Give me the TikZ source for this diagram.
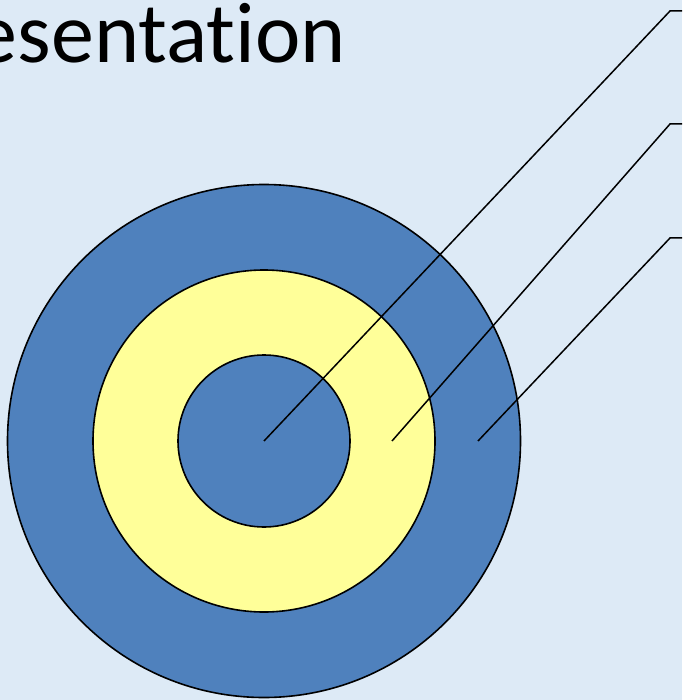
\documentclass[tikz,border=0pt]{standalone}
\usepackage{fontspec}
\setmainfont[Ligatures={NoCommon}]{Carlito}
\definecolor{bgblue}{HTML}{DDEAF6}
\definecolor{ringblue}{HTML}{4F81BD}
\definecolor{ringyellow}{HTML}{FFFF99}
\tikzset{
  ring/.style={circle, draw=black, line width=1.6pt, inner sep=0pt},
  leader/.style={draw=black, line width=1.5pt},
}
\begin{document}
\begin{tikzpicture}[x=1pt,y=-1pt]
\useasboundingbox (0,0) rectangle (682,700);
\clip (0,0) rectangle (682,700);
\fill[bgblue] (0,0) rectangle (682,700);
\node[anchor=base east, font=\fontsize{86}{90}\selectfont, inner sep=0pt] (title) at (346,63) {esentation};
\node[ring, fill=ringblue, minimum size=513pt] (outer) at (264,441) {};
\node[ring, fill=ringyellow, minimum size=342pt] (middle) at (264,441) {};
\node[ring, fill=ringblue, minimum size=172pt] (inner) at (264,441) {};
\coordinate (p1) at (264,441);
\coordinate (p2) at (392,441);
\coordinate (p3) at (478,441);
\coordinate (k1) at (670,11);
\coordinate (k2) at (670,124);
\coordinate (k3) at (670,238);
\coordinate (e1) at (684,11);
\coordinate (e2) at (684,124);
\coordinate (e3) at (684,238);
\draw[leader] (p1) -- (k1) -- (e1);
\draw[leader] (p2) -- (k2) -- (e2);
\draw[leader] (p3) -- (k3) -- (e3);
\end{tikzpicture}
\end{document}
